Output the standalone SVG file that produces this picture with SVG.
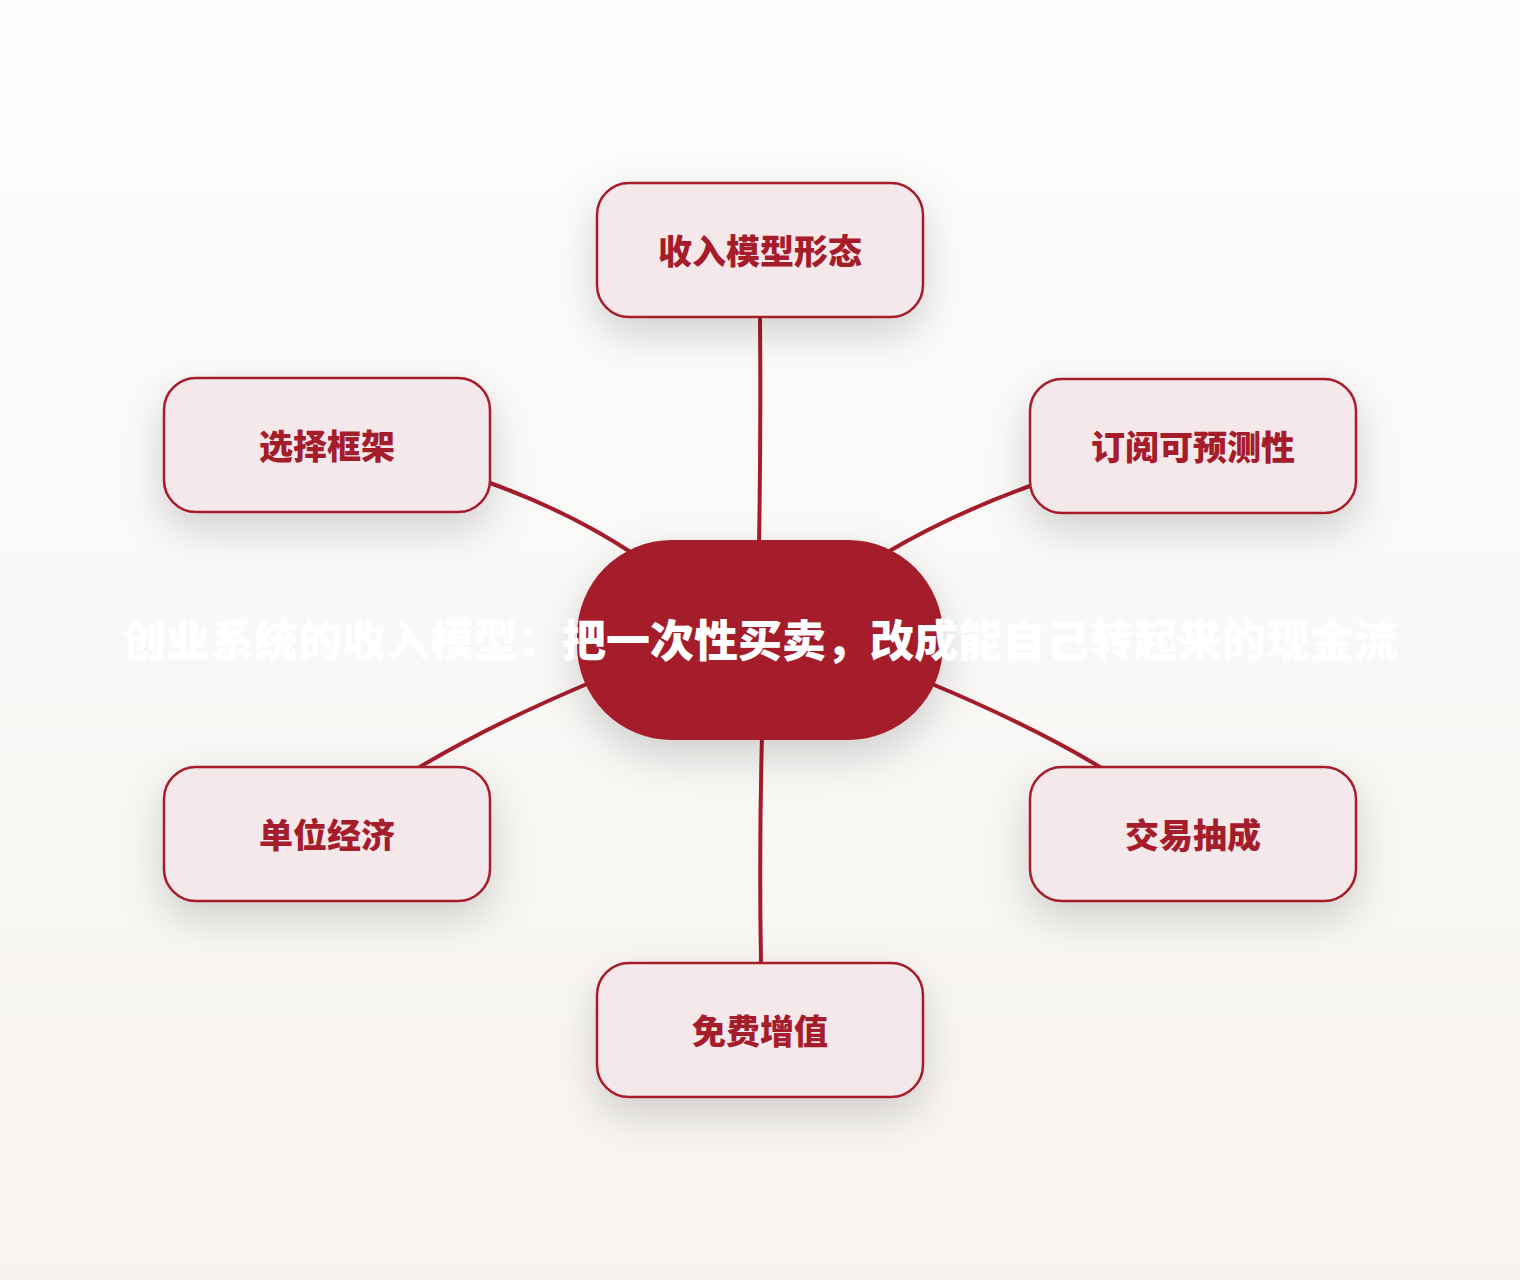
<svg xmlns="http://www.w3.org/2000/svg" width="1520" height="1280" viewBox="0 0 1520 1280">
<defs>
<linearGradient id="bg" x1="0" y1="0" x2="0" y2="1">
<stop offset="0" stop-color="#fdfdfd"/>
<stop offset="1" stop-color="#f7f4f0"/>
</linearGradient>
<filter id="sh" x="-40%" y="-40%" width="180%" height="200%">
<feDropShadow dx="0" dy="16" stdDeviation="20" flood-color="#000" flood-opacity="0.17"/>
</filter>
</defs>
<style>
.leaf rect{fill:#f5e8eb;stroke:#a51c2b;stroke-width:2.5;filter:url(#sh)}
.leaf text{fill:#a51c2b;font-family:"Noto Sans CJK SC","Noto Sans",sans-serif;font-weight:900;font-size:34px;text-anchor:middle}
.edge{fill:none;stroke:#a51c2b;stroke-width:4;stroke-linecap:round}
.hub rect{fill:#a51c2b;filter:url(#sh)}
.hub text{fill:#ffffff;font-family:"Noto Sans CJK SC","Noto Sans",sans-serif;font-weight:900;font-size:44px;text-anchor:middle}
</style>
<rect width="1520" height="1280" fill="url(#bg)"/>
<g id="connectors">
<path class="edge" d="M760 317 Q761 430 759 545"/>
<path class="edge" d="M490 483 Q570 512 632 553"/>
<path class="edge" d="M1030 486 Q950 515 886 553"/>
<path class="edge" d="M587 684 Q490 725 418 768"/>
<path class="edge" d="M932 684 Q1030 725 1100 767"/>
<path class="edge" d="M762 735 Q759 850 761 963"/>
</g>
<g id="node-top" class="leaf"><rect x="597" y="183" width="326" height="134" rx="32"/><text x="760" y="264">收入模型形态</text></g>
<g id="node-ul" class="leaf"><rect x="164" y="378" width="326" height="134" rx="32"/><text x="327" y="459">选择框架</text></g>
<g id="node-ur" class="leaf"><rect x="1030" y="379" width="326" height="134" rx="32"/><text x="1193" y="460">订阅可预测性</text></g>
<g id="node-ll" class="leaf"><rect x="164" y="767" width="326" height="134" rx="32"/><text x="327" y="848">单位经济</text></g>
<g id="node-lr" class="leaf"><rect x="1030" y="767" width="326" height="134" rx="32"/><text x="1193" y="848">交易抽成</text></g>
<g id="node-bottom" class="leaf"><rect x="597" y="963" width="326" height="134" rx="32"/><text x="760" y="1044">免费增值</text></g>
<g id="node-center" class="hub"><rect x="577" y="540" width="366" height="200" rx="95"/><text x="760" y="657">创业系统的收入模型：把一次性买卖，改成能自己转起来的现金流</text></g>
</svg>
